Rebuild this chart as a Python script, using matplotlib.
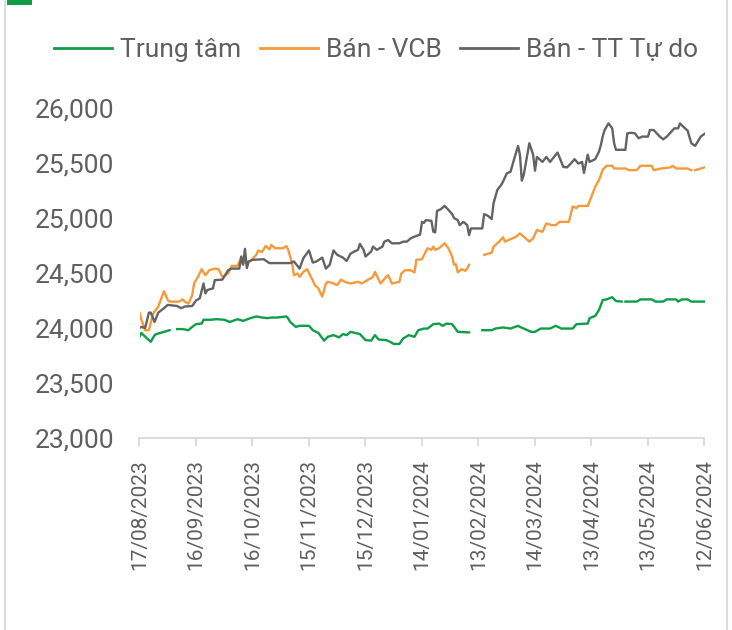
import numpy as np
import pandas as pd
import matplotlib
matplotlib.use("Agg")
import matplotlib.pyplot as plt
import matplotlib.dates as mdates
from matplotlib.lines import Line2D
from matplotlib.patches import Rectangle
from matplotlib.ticker import StrMethodFormatter

plt.rcParams['font.family'] = ['Roboto', 'DejaVu Sans']

nan = np.nan
start = pd.Timestamp("2023-08-17")
tick_days = list(range(0, 301, 30))

# Trung tâm (days since 17/08/2023, VND)
tt_days = [0, 1, 4, 6, 8, 9, 13, 16, 18, 20, 23, 26, 28, 30, 33, 34, 38, 41, 45, 48,
           52, 55, 59, 62, 65, 68, 70, 73, 78, 79, 80, 83, 85, 90, 92, 95, 98, 100, 103, 106,
           108, 110, 112, 117, 120, 123, 125, 127, 131, 133, 135, 138, 140, 143, 146, 148, 151, 153, 156, 159,
           161, 163, 166, 169, 175, 178, 182, 187, 189, 193, 197, 201, 202, 208, 210, 213, 218, 221, 224, 230,
           232, 238, 239, 242, 244, 246, 248, 251, 253, 256, 257, 258, 264, 266, 272, 274, 278, 280, 285, 286,
           288, 291, 293, 300]
tt_vals = [23920, 23955, 23905, 23875, 23935, 23945, 23965, 23980, nan, 23990, 23990, 23980, 24010, 24035, 24040, 24075, 24075, 24080, 24075, 24055,
           24080, 24065, 24090, 24105, 24095, 24090, 24095, 24095, 24105, 24085, 24055, 24010, 24020, 24020, 23980, 23955, 23885, 23920, 23935, 23915,
           23945, 23935, 23965, 23945, 23890, 23885, 23935, 23895, 23890, 23875, 23855, 23855, 23905, 23935, 23920, 23980, 23995, 23995, 24035, 24040,
           24020, 24040, 24035, 23965, 23960, nan, 23980, 23980, 23995, 24005, 23995, 24020, 24010, 23965, 23965, 23995, 23995, 24020, 23995, 23995,
           24035, 24040, 24090, 24110, 24165, 24255, 24260, 24280, 24245, 24240, nan, 24240, 24240, 24260, 24260, 24240, 24240, 24260, 24260, 24240,
           24260, 24260, 24240, 24240]

# Bán - VCB
vcb_days = [0, 1, 3, 5, 7, 8, 10, 13, 15, 16, 21, 23, 24, 26, 28, 29, 31, 33, 35, 37,
            40, 42, 44, 47, 49, 52, 54, 56, 59, 62, 63, 65, 67, 69, 70, 72, 76, 78, 79, 81,
            82, 84, 85, 87, 89, 91, 92, 93, 95, 97, 99, 100, 103, 105, 107, 109, 112, 116, 118, 121,
            124, 125, 128, 131, 132, 134, 138, 139, 141, 144, 146, 147, 150, 152, 153, 155, 156, 157, 159, 162,
            164, 166, 167, 168, 169, 171, 173, 174, 175, 179, 183, 187, 188, 191, 193, 194, 196, 200, 202, 205,
            207, 209, 211, 214, 216, 219, 221, 223, 228, 230, 232, 233, 238, 240, 242, 244, 246, 248, 251, 252,
            258, 260, 264, 266, 272, 273, 277, 282, 283, 285, 291, 293, 294, 295, 300]
vcb_vals = [24140, 24075, 23980, 23980, 24120, 24150, 24195, 24335, 24255, 24240, 24240, 24260, 24240, 24220, 24300, 24405, 24465, 24535, 24480, 24525,
            24540, 24535, 24465, 24495, 24565, 24565, 24635, 24590, 24610, 24665, 24705, 24690, 24745, 24715, 24755, 24725, 24725, 24745, 24710, 24590,
            24480, 24495, 24465, 24510, 24535, 24465, 24435, 24390, 24360, 24285, 24405, 24420, 24405, 24390, 24440, 24420, 24405, 24420, 24405, 24435,
            24465, 24510, 24405, 24465, 24480, 24405, 24420, 24495, 24525, 24525, 24505, 24620, 24625, 24695, 24725, 24710, 24740, 24710, 24725, 24770,
            24725, 24650, 24575, 24580, 24505, 24535, 24520, 24540, 24575, nan, 24665, 24685, 24740, 24785, 24825, 24785, 24800, 24830, 24860, 24815,
            24785, 24815, 24890, 24875, 24950, 24935, 24935, 24965, 24965, 25105, 25090, 25110, 25110, 25195, 25285, 25345, 25440, 25475, 25475, 25450,
            25450, 25435, 25435, 25475, 25475, 25435, 25450, 25460, 25475, 25450, 25450, 25435, nan, 25435, 25460]

# Bán - TT Tự do
free_days = [0, 1, 3, 5, 6, 8, 10, 13, 15, 20, 22, 24, 28, 30, 32, 34, 35, 36, 39, 40,
             44, 46, 47, 49, 53, 54, 55, 56, 57, 58, 60, 66, 69, 75, 80, 82, 85, 87, 90, 92,
             94, 97, 99, 101, 103, 105, 108, 110, 112, 114, 116, 117, 119, 120, 123, 124, 126, 129, 130, 132,
             134, 138, 140, 142, 144, 146, 149, 150, 151, 152, 155, 156, 157, 158, 160, 162, 164, 166, 167, 169,
             170, 172, 174, 175, 176, 182, 183, 185, 187, 188, 190, 192, 193, 195, 197, 199, 201, 202, 203, 204,
             207, 209, 210, 211, 214, 216, 218, 222, 225, 227, 229, 231, 233, 235, 236, 238, 239, 242, 244, 245,
             246, 247, 249, 251, 252, 253, 258, 259, 261, 263, 265, 267, 270, 271, 273, 276, 278, 280, 284, 286,
             287, 289, 291, 293, 295, 298, 300]
free_vals = [24000, 24010, 24000, 24140, 24140, 24055, 24140, 24180, 24210, 24200, 24180, 24195, 24200, 24250, 24270, 24405, 24315, 24345, 24360, 24435,
             24440, 24495, 24525, 24540, 24540, 24650, 24575, 24720, 24545, 24605, 24620, 24625, 24590, 24590, 24590, 24605, 24540, 24635, 24705, 24595,
             24605, 24640, 24540, 24575, 24705, 24665, 24640, 24610, 24675, 24695, 24710, 24765, 24710, 24650, 24695, 24740, 24710, 24740, 24785, 24800,
             24770, 24770, 24785, 24785, 24815, 24830, 24850, 24965, 24955, 24980, 24975, 24875, 24870, 25065, 25080, 25110, 25075, 25035, 25000, 24980,
             24935, 24965, 24935, 24845, 24905, 24905, 25035, 25020, 24990, 25135, 25255, 25300, 25330, 25405, 25420, 25540, 25655, 25575, 25340, 25390,
             25680, 25575, 25430, 25555, 25510, 25555, 25510, 25595, 25465, 25460, 25495, 25535, 25495, 25510, 25410, 25575, 25510, 25535, 25605, 25665,
             25745, 25800, 25860, 25815, 25680, 25620, 25620, 25770, 25775, 25770, 25725, 25740, 25740, 25800, 25800, 25745, 25715, 25740, 25815, 25815,
             25860, 25825, 25795, 25680, 25655, 25740, 25765]

def to_dates(days):
    return start + pd.to_timedelta(days, unit="D")

text_col = '#5f5f5f'
c_green = '#0e9d49'
c_orange = '#f7993b'
c_gray = '#636363'

fig = plt.figure(figsize=(7.32, 6.3), dpi=100)
ax = fig.add_axes([139.5 / 732, 1 - 438 / 630, 565 / 732, 330 / 630])

ax.plot(to_dates(tt_days), tt_vals, color=c_green, lw=1.7, label='Trung tâm')
ax.plot(to_dates(vcb_days), vcb_vals, color=c_orange, lw=1.7, label='Bán - VCB')
ax.plot(to_dates(free_days), free_vals, color=c_gray, lw=1.7, label='Bán - TT Tự do')

ax.set_xlim(to_dates([0])[0], to_dates([300])[0])
ax.set_ylim(23000, 26000)
ax.set_yticks([23000, 23500, 24000, 24500, 25000, 25500, 26000])
ax.yaxis.set_major_formatter(StrMethodFormatter('{x:,.0f}'))
ax.set_xticks(to_dates(tick_days))
ax.xaxis.set_major_formatter(mdates.DateFormatter('%d/%m/%Y'))

for s in ['top', 'right', 'left']:
    ax.spines[s].set_visible(False)
ax.spines['bottom'].set_color('#d9d9d9')
ax.spines['bottom'].set_linewidth(1.3)

ax.tick_params(axis='y', length=0, pad=18, labelsize=19, labelcolor=text_col)
ax.tick_params(axis='x', length=6, width=1.3, color='#d9d9d9', direction='out',
               pad=9, labelsize=15, labelcolor=text_col, labelrotation=90)

leg = ax.legend(loc='center', bbox_to_anchor=(0.514, 1 - 50 / 630), bbox_transform=fig.transFigure,
                ncol=3, frameon=False, fontsize=19, handlelength=2.2, handletextpad=0.3,
                columnspacing=0.7, borderpad=0)
for t in leg.get_texts():
    t.set_color(text_col)
for h in leg.legend_handles:
    h.set_linewidth(2)

# frame of the original panel
fig.add_artist(Line2D([5 / 732, 5 / 732], [0, 1], transform=fig.transFigure, color='#dcdcdc', lw=1.5))
fig.add_artist(Line2D([727 / 732, 727 / 732], [0, 1], transform=fig.transFigure, color='#dcdcdc', lw=1.5))
fig.add_artist(Rectangle((7 / 732, 1 - 5 / 630), 25 / 732, 5 / 630, transform=fig.transFigure,
                         color='#0e9d49', lw=0))

fig.savefig('out.png', dpi=100)
